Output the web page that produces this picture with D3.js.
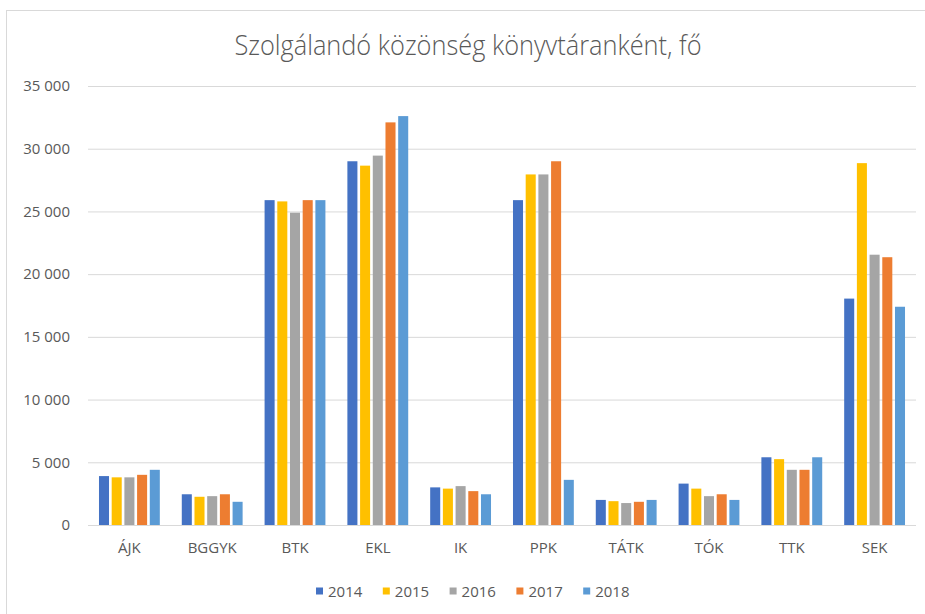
<!DOCTYPE html>
<html>
<head>
<meta charset="utf-8">
<script src="https://cdn.jsdelivr.net/npm/d3@7"></script>
<style>
  html, body { margin: 0; padding: 0; background: #fff; }
  svg { display: block; }
</style>
</head>
<body>
<svg id="chart" width="925" height="614"></svg>
<script>
const title = "Szolgálandó közönség könyvtáranként, fő";
const categories = ["ÁJK", "BGGYK", "BTK", "EKL", "IK", "PPK", "TÁTK", "TÓK", "TTK", "SEK"];
const years = ["2014", "2015", "2016", "2017", "2018"];
const colors = ["#4472C4", "#FFC000", "#A5A5A5", "#ED7D31", "#5B9BD5"];
const v2014 = [3900, 2450, 25900, 29000, 3000, 25900, 2000, 3300, 5400, 18050];
const v2015 = [3800, 2250, 25800, 28650, 2900, 27950, 1900, 2900, 5250, 28850];
const v2016 = [3800, 2300, 24900, 29450, 3100, 27950, 1750, 2300, 4400, 21550];
const v2017 = [4000, 2450, 25900, 32100, 2700, 29000, 1850, 2450, 4400, 21350];
const v2018 = [4400, 1850, 25900, 32600, 2450, 3600, 2000, 2000, 5400, 17400];
const yTicks = [0, 5000, 10000, 15000, 20000, 25000, 30000, 35000];

const series = [v2014, v2015, v2016, v2017, v2018];
const data = categories.map((c, i) => ({
  cat: c,
  vals: years.map((y, j) => ({ year: y, value: series[j][i], color: colors[j] }))
}));

const svg = d3.select("#chart");
const textColor = "#595959";
const font = "'Open Sans', 'DejaVu Sans', sans-serif";

// chart border
svg.append("rect")
  .attr("x", 6.5).attr("y", 10.5)
  .attr("width", 940).attr("height", 640)
  .attr("fill", "none").attr("stroke", "#d9d9d9").attr("stroke-width", 1);

const plot = { left: 88, right: 916, top: 86, bottom: 525 };

const x0 = d3.scaleBand().domain(categories).range([plot.left, plot.right]).paddingInner(0).paddingOuter(0);
const x1 = d3.scaleBand().domain(years).range([0, x0.bandwidth()]).paddingInner(0.21).paddingOuter(0.865);
const y = d3.scaleLinear().domain([0, 35000]).range([plot.bottom, plot.top]);

// title
svg.append("text")
  .attr("x", 468).attr("y", 55)
  .attr("text-anchor", "middle")
  .attr("font-family", font).attr("font-weight", 300)
  .attr("font-size", 28)
  .attr("fill", textColor)
  .attr("textLength", 467).attr("lengthAdjust", "spacingAndGlyphs")
  .text(title);

// gridlines + y labels
const fmt = v => d3.format(",")(v).replace(/,/g, " ");
const yAxis = d3.axisLeft(y).tickValues(yTicks).tickSize(-(plot.right - plot.left)).tickPadding(18).tickFormat(fmt);
const gy = svg.append("g").attr("transform", `translate(${plot.left},0)`).call(yAxis);
gy.select(".domain").remove();
gy.selectAll(".tick line").attr("stroke", "#d9d9d9").attr("stroke-width", 1);
gy.selectAll(".tick text")
  .attr("font-family", font).attr("font-size", 15).attr("fill", textColor);

// bars
const groups = svg.append("g").selectAll("g").data(data).join("g")
  .attr("transform", d => `translate(${x0(d.cat)},0)`);
groups.selectAll("rect").data(d => d.vals).join("rect")
  .attr("x", d => x1(d.year))
  .attr("width", x1.bandwidth())
  .attr("y", d => y(d.value))
  .attr("height", d => y(0) - y(d.value))
  .attr("fill", d => d.color);

// x axis labels
const xAxis = d3.axisBottom(x0).tickSize(0).tickPadding(17);
const gx = svg.append("g").attr("transform", `translate(0,${plot.bottom})`).call(xAxis);
gx.select(".domain").remove();
gx.selectAll(".tick text")
  .attr("font-family", font).attr("font-size", 15).attr("fill", textColor);

// legend
const legend = svg.append("g").attr("transform", "translate(316,591)");
const items = legend.selectAll("g").data(years).join("g")
  .attr("transform", (d, i) => `translate(${i * 66.8},0)`);
items.append("rect")
  .attr("x", 0).attr("y", -3.5).attr("width", 7).attr("height", 7)
  .attr("fill", (d, i) => colors[i]);
items.append("text")
  .attr("x", 12).attr("y", 5.5)
  .attr("font-family", font).attr("font-size", 15).attr("fill", textColor)
  .text(d => d);
</script>
</body>
</html>
